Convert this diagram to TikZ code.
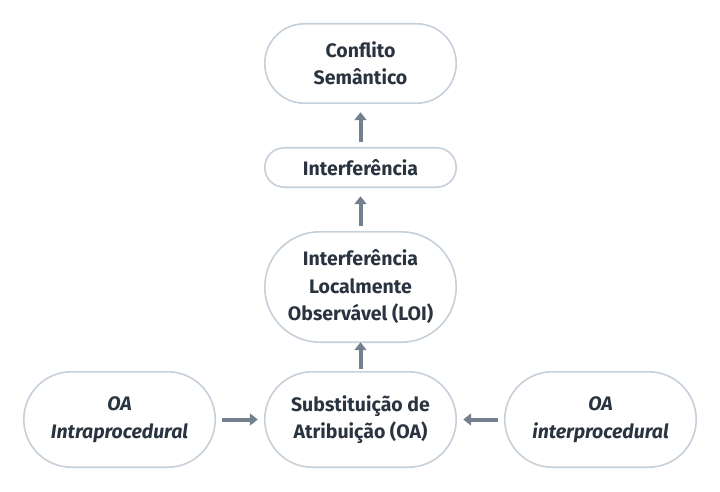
\documentclass[tikz,border=0pt]{standalone}
\usepackage{fontspec}
\setmainfont{Fira Sans}
\usepackage{tikz}
\usepackage{xcolor}
\usetikzlibrary{arrows.meta}

\definecolor{borda}{HTML}{C6D0DA}
\definecolor{seta}{HTML}{74808E}
\definecolor{texto}{HTML}{2A3440}

\begin{document}
\begin{tikzpicture}[x=1pt,y=-1pt,
  every node/.style={font=\bfseries\fontsize{19.5}{27.5}\selectfont,text=texto},
  caixa/.style={minimum width=191pt,align=center,inner sep=0pt},
  seta/.style={draw=seta,line width=4pt,-{Triangle[width=12pt,length=8pt]}}]
\useasboundingbox (0,0) rectangle (720,492);
\node[caixa,minimum height=79pt] (cs) at (360.5,63.5) {Conflito\\Semântico};
\node[caixa,minimum height=39pt] (intf) at (360.5,167.5) {Interferência};
\node[caixa,minimum height=110pt] (loi) at (360.5,287) {Interferência\\Localmente\\Observável (LOI)};
\node[caixa,minimum height=95pt] (oa) at (360.5,419.5) {Substituição de\\Atribuição (OA)};
\node[caixa,minimum height=95pt,font=\bfseries\itshape\fontsize{19.5}{27.5}\selectfont] (intra) at (119.5,419.5) {OA\\Intraprocedural};
\node[caixa,minimum height=95pt,font=\bfseries\itshape\fontsize{19.5}{27.5}\selectfont] (inter) at (600.5,419.5) {OA\\interprocedural};
% contornos arredondados
\foreach \n/\r in {cs/39.5,intf/19.5,loi/55,oa/47.5,intra/47.5,inter/47.5}
  \draw[borda,line width=1.6pt,rounded corners=\r pt] (\n.south west) rectangle (\n.north east);
% setas
\draw[seta,shorten <=6pt,shorten >=9pt] (intf) -- (cs);
\draw[seta,shorten <=6pt,shorten >=9pt] (loi) -- (intf);
\draw[seta,shorten <=3pt,shorten >=0pt] (oa) -- (loi);
\draw[seta,shorten <=7pt,shorten >=7pt] (intra) -- (oa);
\draw[seta,shorten <=7pt,shorten >=7pt] (inter) -- (oa);
\end{tikzpicture}
\end{document}
